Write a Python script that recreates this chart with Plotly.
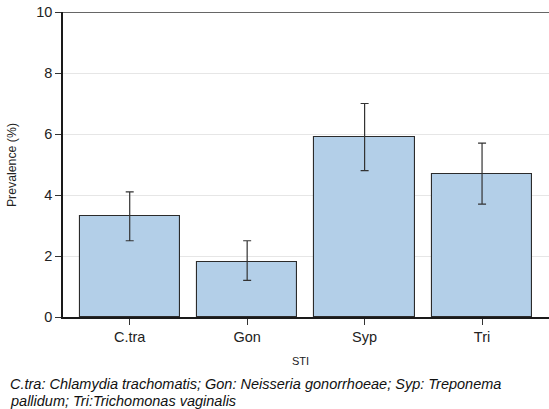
import plotly.graph_objects as go

categories = ["C.tra", "Gon", "Syp", "Tri"]
prevalence = [3.3, 1.8, 5.9, 4.7]
ci_low = [2.5, 1.2, 4.8, 3.7]
ci_high = [4.1, 2.5, 7.0, 5.7]
y_ticks = [0, 2, 4, 6, 8, 10]
x_title = "STI"
y_title = "Prevalence (%)"
footnote_lines = [
    "C.tra: Chlamydia trachomatis; Gon: Neisseria gonorrhoeae; Syp: Treponema",
    "pallidum; Tri:Trichomonas vaginalis",
]

x_pos = list(range(1, len(categories) + 1))
err_plus = [h - v for h, v in zip(ci_high, prevalence)]
err_minus = [v - l for v, l in zip(prevalence, ci_low)]

fig = go.Figure()
fig.add_trace(go.Bar(
    x=x_pos, y=prevalence, width=0.855,
    marker=dict(color="#b3cfe8", line=dict(color="#2b2b2b", width=1.1)),
    error_y=dict(type="data", symmetric=False, array=err_plus, arrayminus=err_minus,
                 color="#333333", thickness=1.2, width=4),
    showlegend=False,
))

annotations = [
    dict(text=x_title, xref="paper", yref="paper", x=0.4877, y=-0.1443,
         xanchor="center", yanchor="middle", showarrow=False,
         font=dict(size=11, color="#222222")),
    dict(text=y_title, xref="paper", yref="paper", x=-0.105, y=0.498,
         xanchor="center", yanchor="middle", showarrow=False, textangle=-90,
         font=dict(size=12.3, color="#222222")),
]
for i, line in enumerate(footnote_lines):
    annotations.append(dict(
        text="<i>" + line + "</i>", xref="paper", yref="paper",
        x=-0.113, y=-0.2197 - i * 0.0557,
        xanchor="left", yanchor="middle", align="left", showarrow=False,
        font=dict(size=14.5, color="#111111"),
    ))

fig.update_layout(
    width=549, height=409,
    margin=dict(l=63, r=0, t=12, b=92, autoexpand=False),
    paper_bgcolor="white", plot_bgcolor="white",
    font=dict(family="Liberation Sans, Arial, sans-serif", color="#222222", size=14),
    bargap=0,
    xaxis=dict(
        range=[0.432, 4.57], tickvals=x_pos, ticktext=categories,
        ticks="outside", ticklen=6, tickcolor="#333333", showgrid=False,
        showline=True, linecolor="#1a1a1a", linewidth=1.5, zeroline=False,
        automargin=False, tickfont=dict(size=14.5),
    ),
    yaxis=dict(
        range=[0, 10], tickvals=y_ticks, ticks="outside", ticklen=6,
        tickcolor="#333333", showgrid=True, gridcolor="#e6e6e6", gridwidth=1,
        showline=True, linecolor="#1a1a1a", linewidth=1.5, zeroline=False,
        mirror=False, automargin=False, tickfont=dict(size=14.5),
    ),
    shapes=[dict(type="line", xref="paper", yref="y", x0=0, x1=1, y0=10, y1=10,
                 line=dict(color="#333333", width=1.5))],
    annotations=annotations,
)

fig.write_html(
    "out.html",
    config={"displayModeBar": False},
    post_script="document.body.style.margin='0';document.body.style.overflow='hidden';",
)
